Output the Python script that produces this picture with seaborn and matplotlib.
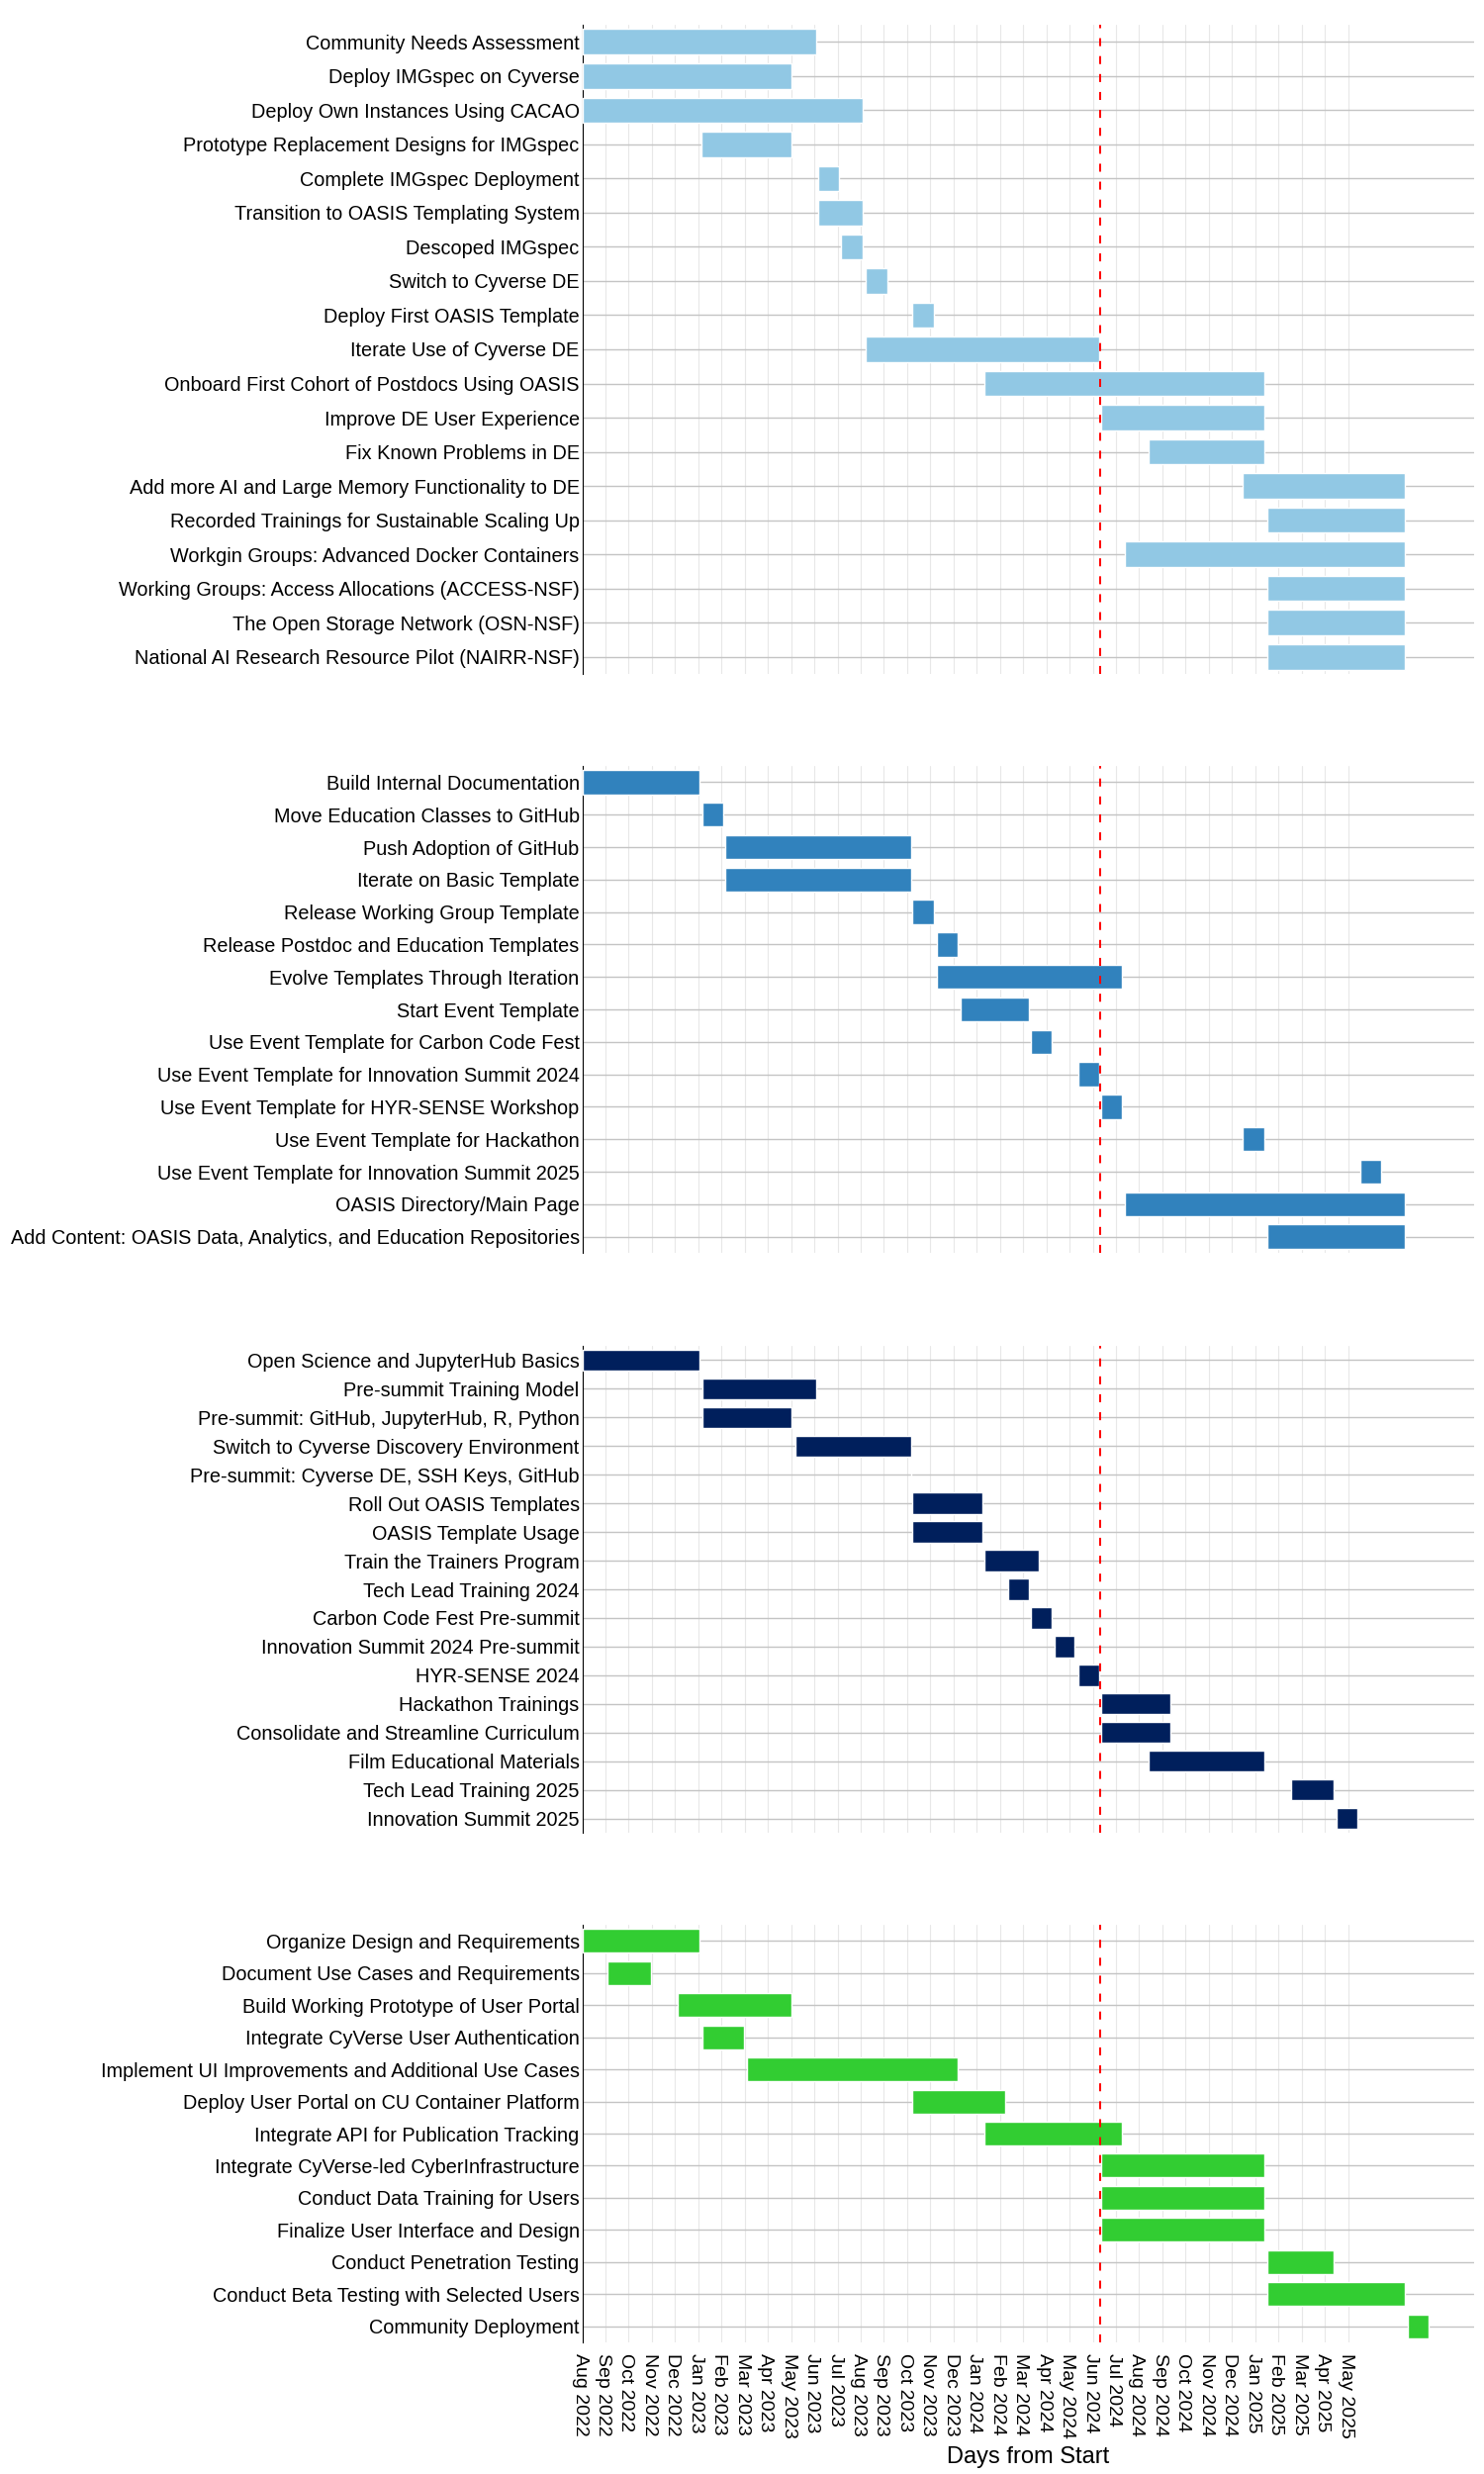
import matplotlib
matplotlib.use('Agg')
import matplotlib.pyplot as plt
import matplotlib.transforms as mtransforms
import seaborn as sns

sns.set_theme(style='whitegrid')
plt.rcParams['font.family'] = ['Liberation Sans', 'DejaVu Sans']

# --- data: days from start ---
tasks_cyverse = ['Community Needs Assessment', 'Deploy IMGspec on Cyverse',
                 'Deploy Own Instances Using CACAO', 'Prototype Replacement Designs for IMGspec',
                 'Complete IMGspec Deployment', 'Transition to OASIS Templating System',
                 'Descoped IMGspec', 'Switch to Cyverse DE', 'Deploy First OASIS Template',
                 'Iterate Use of Cyverse DE', 'Onboard First Cohort of Postdocs Using OASIS',
                 'Improve DE User Experience', 'Fix Known Problems in DE',
                 'Add more AI and Large Memory Functionality to DE',
                 'Recorded Trainings for Sustainable Scaling Up',
                 'Workgin Groups: Advanced Docker Containers',
                 'Working Groups: Access Allocations (ACCESS-NSF)',
                 'The Open Storage Network (OSN-NSF)',
                 'National AI Research Resource Pilot (NAIRR-NSF)']
start_cyverse = [0, 0, 0, 154, 305, 305, 335, 366, 427, 366, 520, 671, 732, 854, 886, 701, 886, 886, 886]
end_cyverse = [303, 271, 363, 271, 332, 363, 363, 394, 455, 668, 882, 882, 882, 1063, 1063, 1063, 1063, 1063, 1063]

tasks_github = ['Build Internal Documentation', 'Move Education Classes to GitHub',
                'Push Adoption of GitHub', 'Iterate on Basic Template',
                'Release Working Group Template', 'Release Postdoc and Education Templates',
                'Evolve Templates Through Iteration', 'Start Event Template',
                'Use Event Template for Carbon Code Fest',
                'Use Event Template for Innovation Summit 2024',
                'Use Event Template for HYR-SENSE Workshop',
                'Use Event Template for Hackathon',
                'Use Event Template for Innovation Summit 2025',
                'OASIS Directory/Main Page',
                'Add Content: OASIS Data, Analytics, and Education Repositories']
start_github = [0, 155, 185, 185, 427, 458, 458, 489, 580, 641, 671, 854, 1006, 701, 886]
end_github = [152, 182, 425, 425, 455, 485, 698, 577, 607, 668, 698, 882, 1033, 1063, 1063]

tasks_training = ['Open Science and JupyterHub Basics', 'Pre-summit Training Model',
                  'Pre-summit: GitHub, JupyterHub, R, Python',
                  'Switch to Cyverse Discovery Environment',
                  'Pre-summit: Cyverse DE, SSH Keys, GitHub', 'Roll Out OASIS Templates',
                  'OASIS Template Usage', 'Train the Trainers Program',
                  'Tech Lead Training 2024', 'Carbon Code Fest Pre-summit',
                  'Innovation Summit 2024 Pre-summit', 'HYR-SENSE 2024',
                  'Hackathon Trainings', 'Consolidate and Streamline Curriculum',
                  'Film Educational Materials', 'Tech Lead Training 2025',
                  'Innovation Summit 2025']
start_training = [0, 155, 155, 275, 425, 427, 427, 520, 551, 580, 611, 641, 671, 671, 732, 917, 975]
end_training = [152, 303, 271, 425, 425, 517, 517, 590, 577, 607, 636, 668, 760, 760, 882, 972, 1002]

tasks_portal = ['Organize Design and Requirements', 'Document Use Cases and Requirements',
                'Build Working Prototype of User Portal',
                'Integrate CyVerse User Authentication',
                'Implement UI Improvements and Additional Use Cases',
                'Deploy User Portal on CU Container Platform',
                'Integrate API for Publication Tracking',
                'Integrate CyVerse-led CyberInfrastructure',
                'Conduct Data Training for Users', 'Finalize User Interface and Design',
                'Conduct Penetration Testing', 'Conduct Beta Testing with Selected Users',
                'Community Deployment']
start_portal = [0, 32, 123, 155, 213, 427, 520, 671, 671, 671, 886, 886, 1067]
end_portal = [151, 89, 271, 209, 485, 547, 698, 882, 882, 882, 972, 1063, 1094]

month_labels = ['Aug 2022', 'Sep 2022', 'Oct 2022', 'Nov 2022', 'Dec 2022',
                'Jan 2023', 'Feb 2023', 'Mar 2023', 'Apr 2023', 'May 2023', 'Jun 2023',
                'Jul 2023', 'Aug 2023', 'Sep 2023', 'Oct 2023', 'Nov 2023', 'Dec 2023',
                'Jan 2024', 'Feb 2024', 'Mar 2024', 'Apr 2024', 'May 2024', 'Jun 2024',
                'Jul 2024', 'Aug 2024', 'Sep 2024', 'Oct 2024', 'Nov 2024', 'Dec 2024',
                'Jan 2025', 'Feb 2025', 'Mar 2025', 'Apr 2025', 'May 2025']
today = 670

panels = [
    (tasks_cyverse, start_cyverse, end_cyverse, '#91c8e4'),
    (tasks_github, start_github, end_github, '#3182bd'),
    (tasks_training, start_training, end_training, '#001f5c'),
    (tasks_portal, start_portal, end_portal, '#32cd32'),
]
# panel top/bottom in pixels
panel_px = [(25, 681), (774, 1266), (1360, 1852), (1945, 2367)]

fig = plt.figure(figsize=(15, 25), dpi=100)
ticks = [30 * i for i in range(len(month_labels))]

for i, ((tasks, starts, ends, color), (top, bot)) in enumerate(zip(panels, panel_px)):
    ax = fig.add_axes([588.5 / 1500, 1 - bot / 2500, 901.5 / 1500, (bot - top) / 2500])
    n = len(tasks)
    durations = [e - s for s, e in zip(starts, ends)]
    ax.barh(range(n), durations, left=starts, height=0.74, color=color,
            edgecolor='white', linewidth=1, zorder=3)
    ax.set_yticks(range(n))
    ax.set_yticklabels(tasks, fontsize=14.3, color='black')
    ax.set_ylim(n - 0.5, -0.5)
    ax.set_xlim(0, 1153)
    ax.set_xticks(ticks)
    ax.set_axisbelow(True)
    ax.grid(False)
    ax.xaxis.grid(True, color='#e8e8e8', linewidth=0.8)
    ax.yaxis.grid(True, color='#c4c4c4', linewidth=1.0)
    ax.axvline(today, color='red', linestyle=(0, (4, 5)), linewidth=1.45, zorder=4)
    sns.despine(ax=ax, top=True, right=True, bottom=True)
    ax.spines['left'].set_color('black')
    ax.spines['left'].set_linewidth(0.8)
    ax.tick_params(axis='y', length=0, pad=2)
    ax.tick_params(axis='x', length=0, pad=8)
    if i == len(panels) - 1:
        ax.set_xticklabels(month_labels, rotation=270, fontsize=14, color='black')
        shift = mtransforms.ScaledTranslation(-2.5 / 100, 0, fig.dpi_scale_trans)
        for lab in ax.get_xticklabels():
            lab.set_transform(lab.get_transform() + shift)
        ax.set_xlabel('Days from Start', fontsize=17, color='black', labelpad=6)
    else:
        ax.tick_params(axis='x', labelbottom=False)

fig.savefig('out.png', dpi=100)
